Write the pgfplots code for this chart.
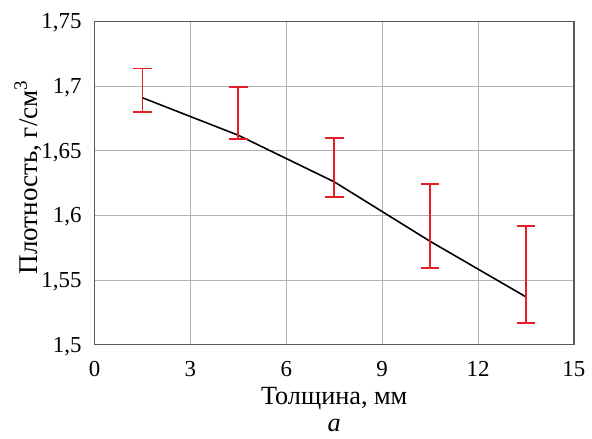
\documentclass[border=0pt]{standalone}
\usepackage{fontspec}
\setmainfont{Liberation Serif}
\usepackage{pgfplots}
\pgfplotsset{compat=1.18}
\definecolor{errred}{RGB}{228,30,38}
\begin{document}
\begin{tikzpicture}
\begin{axis}[
  name=ax,
  scale only axis, width=241pt, height=162.5pt,
  xmin=0, xmax=15, ymin=1.5, ymax=1.75,
  xtick={0,3,...,15}, ytick={1.5,1.55,...,1.75},
  grid=major, grid style={gray!60, line width=0.4pt},
  axis line style={gray!70!black, line width=0.6pt},
  major tick length=0pt,
  tick label style={font=\fontsize{11.5}{13}\selectfont},
  /pgf/number format/use comma,
  /pgf/number format/assume math mode=true,
  xticklabel style={anchor=base, yshift=-16pt},
  yticklabel style={anchor=east, xshift=-3pt, yshift=-0.8pt},
  xlabel={Толщина, мм},
  xlabel style={at={(axis description cs:0.5,0)}, anchor=base, yshift=-30pt,
    font=\fontsize{13.2}{15}\selectfont},
  ylabel={Плотность, г/см\textsuperscript{3}},
  ylabel style={at={(axis description cs:0,0.5)}, anchor=center, yshift=33.5pt,
    xshift=3pt, font=\fontsize{13.6}{15}\selectfont},
]
\addplot[black, line width=0.8pt, mark=none,
  error bars/.cd, y dir=both, y explicit,
  error bar style={errred, line width=0.9pt},
  error mark options={errred, line width=0.9pt, rotate=90, mark size=4.7pt}]
coordinates {
  (1.5,1.691)  += (0,0.0226) -= (0,0.011)
  (4.5,1.662)  += (0,0.0375) -= (0,0.003)
  (7.5,1.626)  += (0,0.034)  -= (0,0.012)
  (10.5,1.580) += (0,0.0445) -= (0,0.0205)
  (13.5,1.537) += (0,0.055)  -= (0,0.020)
};
\end{axis}
\node[anchor=base, font=\fontsize{13.2}{15}\selectfont\itshape]
  at ([yshift=-43.5pt]ax.south) {а};
\path ([shift={(-47.5pt,-44.5pt)}]ax.south west) rectangle ([shift={(7.5pt,10.8pt)}]ax.north east);
\end{tikzpicture}
\end{document}
